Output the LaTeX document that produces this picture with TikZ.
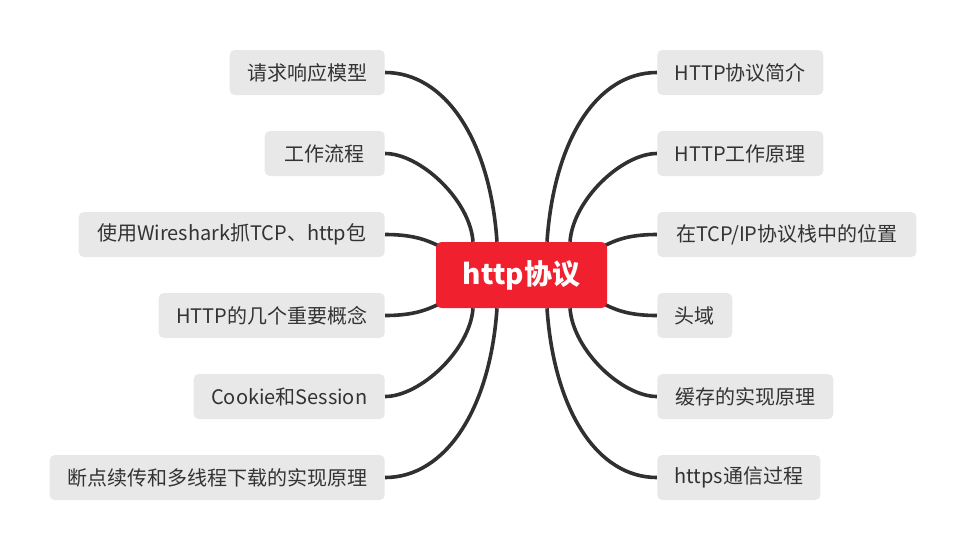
\documentclass[tikz,border=0pt]{standalone}
\usepackage{fontspec}
\newfontfamily\cjk{Noto Sans CJK SC}
\usetikzlibrary{calc,backgrounds}
\newlength\pxl
\setlength\pxl{0.75pt}
\definecolor{boxgray}{RGB}{232,232,232}
\definecolor{txtgray}{RGB}{51,51,51}
\definecolor{rootred}{RGB}{240,32,46}
\definecolor{linegray}{RGB}{48,48,48}
\tikzset{
  leaf/.style={fill=boxgray, rounded corners=5\pxl, minimum height=45\pxl,
    inner sep=0pt, text=txtgray, font=\cjk\fontsize{15}{18}\selectfont},
  lleaf/.style={leaf, anchor=east},
  rleaf/.style={leaf, anchor=west},
  root/.style={fill=rootred, rounded corners=6\pxl, minimum width=171\pxl,
    minimum height=66\pxl, inner sep=0pt, text=white,
    font=\cjk\fontsize{21}{24}\selectfont\bfseries},
  conn/.style={draw=linegray, line width=2.7pt}
}
\begin{document}
\begin{tikzpicture}[x=0.75pt,y=-0.75pt]
\useasboundingbox (0,0) rectangle (967,551);
\node[root] (c) at (521.5,275) {http协议};
% left leaves
\node[lleaf, minimum width=155\pxl] (l1) at (385,72.5) {请求响应模型};
\node[lleaf, minimum width=120\pxl] (l2) at (385,153.5) {工作流程};
\node[lleaf, minimum width=306\pxl] (l3) at (385,234.5) {使用Wireshark抓TCP、http包};
\node[lleaf, minimum width=226\pxl] (l4) at (385,315.5) {HTTP的几个重要概念};
\node[lleaf, minimum width=191\pxl] (l5) at (385,396.5) {Cookie和Session};
\node[lleaf, minimum width=335\pxl] (l6) at (385,477.5) {断点续传和多线程下载的实现原理};
% right leaves
\node[rleaf, minimum width=166\pxl] (r1) at (657,72.5) {HTTP协议简介};
\node[rleaf, minimum width=166\pxl] (r2) at (657,153.5) {HTTP工作原理};
\node[rleaf, minimum width=259\pxl] (r3) at (657,234.5) {在TCP/IP协议栈中的位置};
\node[rleaf, minimum width=75\pxl] (r4) at (657,315.5) {头域};
\node[rleaf, minimum width=176\pxl] (r5) at (657,396.5) {缓存的实现原理};
\node[rleaf, minimum width=163\pxl] (r6) at (657,477.5) {https通信过程};
\begin{scope}[on background layer]
% entry points on root
\coordinate (tl1) at ($(c.north)+(-24.5,0)$);
\coordinate (tl2) at ($(c.north)+(-48.5,0)$);
\coordinate (tr1) at ($(c.north)+(25.5,0)$);
\coordinate (tr2) at ($(c.north)+(48.5,0)$);
\coordinate (bl1) at ($(c.south)+(-24.5,0)$);
\coordinate (bl2) at ($(c.south)+(-48.5,0)$);
\coordinate (br1) at ($(c.south)+(25.5,0)$);
\coordinate (br2) at ($(c.south)+(48.5,0)$);
\coordinate (ml1) at ($(c.west)+(10,-26)$);
\coordinate (ml2) at ($(c.west)+(10,26)$);
\coordinate (mr1) at ($(c.east)+(-10,-26)$);
\coordinate (mr2) at ($(c.east)+(-10,26)$);
\draw[conn] (l1.east) .. controls +(60,0) and +(-7,-102) .. (tl1);
\draw[conn] (l2.east) .. controls +(35,0) and +(-3,-42) .. (tl2);
\draw[conn] (l3.east) .. controls +(35,0) and +(-14,-6) .. (ml1);
\draw[conn] (l4.east) .. controls +(35,0) and +(-14,6) .. (ml2);
\draw[conn] (l5.east) .. controls +(35,0) and +(-3,42) .. (bl2);
\draw[conn] (l6.east) .. controls +(60,0) and +(-7,102) .. (bl1);
\draw[conn] (r1.west) .. controls +(-60,0) and +(7,-102) .. (tr1);
\draw[conn] (r2.west) .. controls +(-35,0) and +(3,-42) .. (tr2);
\draw[conn] (r3.west) .. controls +(-35,0) and +(14,-6) .. (mr1);
\draw[conn] (r4.west) .. controls +(-35,0) and +(14,6) .. (mr2);
\draw[conn] (r5.west) .. controls +(-35,0) and +(3,42) .. (br2);
\draw[conn] (r6.west) .. controls +(-60,0) and +(7,102) .. (br1);
\end{scope}
\end{tikzpicture}
\end{document}
